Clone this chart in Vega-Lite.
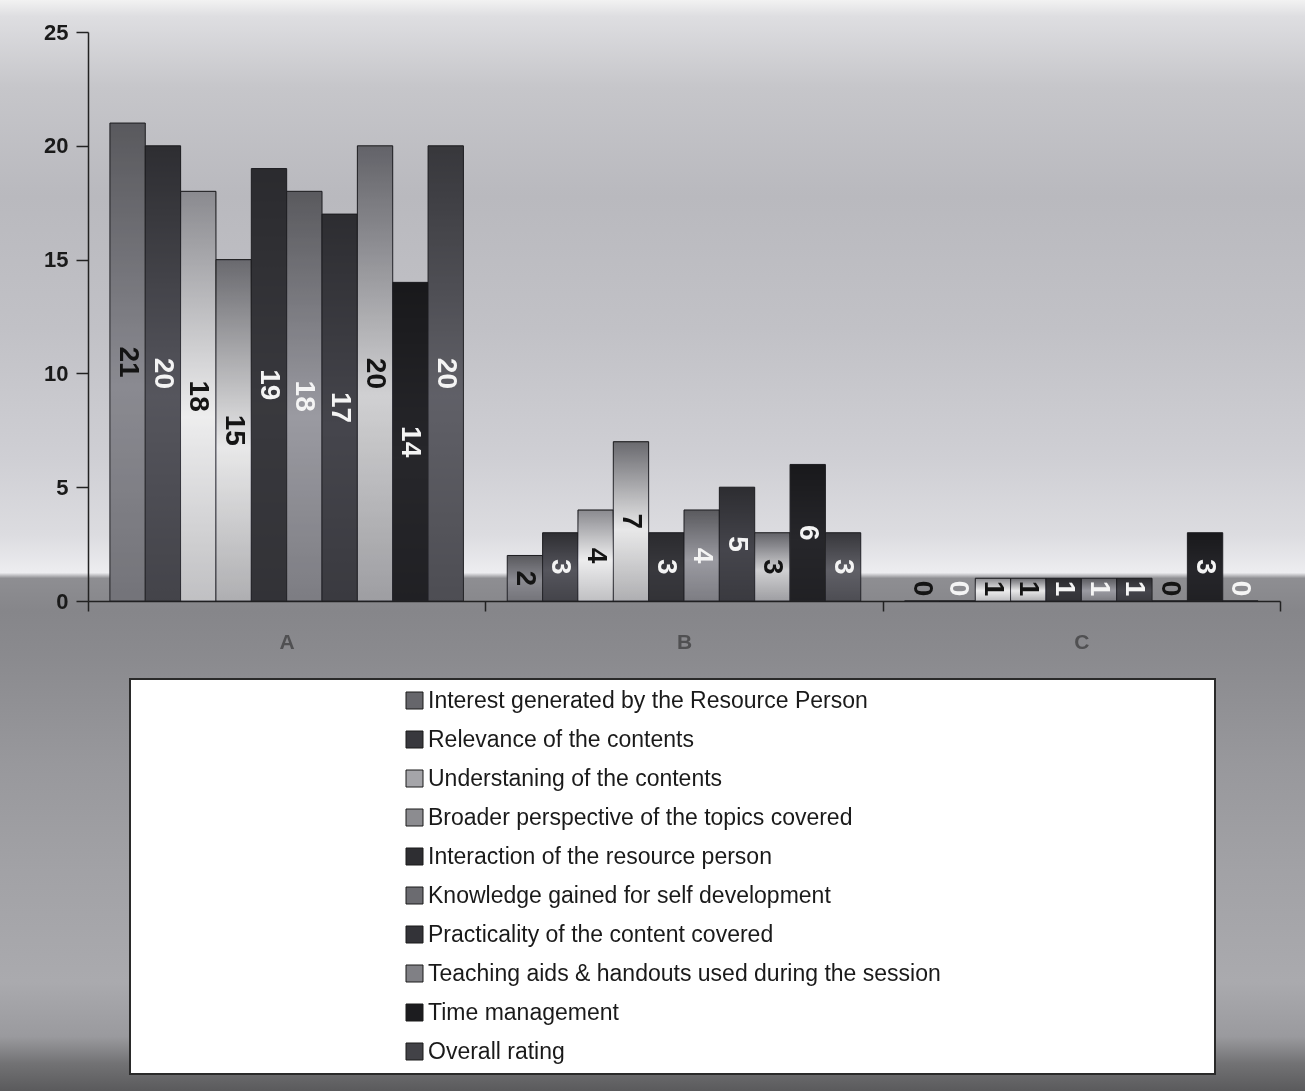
{
  "$schema": "https://vega.github.io/schema/vega-lite/v6.json",
  "width": 1305,
  "height": 1091,
  "autosize": {"type": "none"},
  "padding": 0,
  "background": "#9a9a9e",
  "config": {
    "font": "Liberation Sans",
    "view": {
      "stroke": null,
      "fill": {
        "gradient": "linear", "x1": 0, "y1": 0, "x2": 0, "y2": 1,
        "stops": [
          {"offset": 0, "color": "#f2f2f2"},
          {"offset": 0.015, "color": "#dedee1"},
          {"offset": 0.08, "color": "#c6c6ca"},
          {"offset": 0.18, "color": "#b9b9be"},
          {"offset": 0.3, "color": "#c1c1c6"},
          {"offset": 0.42, "color": "#cfcfd4"},
          {"offset": 0.49, "color": "#dcdce0"},
          {"offset": 0.525, "color": "#ededf0"},
          {"offset": 0.53, "color": "#8e8e92"},
          {"offset": 0.56, "color": "#86868a"},
          {"offset": 0.6, "color": "#8a8a8e"},
          {"offset": 0.7, "color": "#98989c"},
          {"offset": 0.8, "color": "#a2a2a6"},
          {"offset": 0.9, "color": "#aaaaae"},
          {"offset": 0.95, "color": "#9a9a9e"},
          {"offset": 0.975, "color": "#727274"},
          {"offset": 1, "color": "#5a5a5c"}
        ]
      }
    },
    "axis": {"grid": false, "title": null},
    "legend": {
      "orient": "none",
      "legendX": 130,
      "legendY": 679,
      "fillColor": "#ffffff",
      "strokeColor": "#2a2a2a",
      "strokeWidth": 2,
      "padding": 10,
      "symbolType": "square",
      "symbolSize": 289,
      "symbolStrokeColor": "#1a1a1a",
      "symbolStrokeWidth": 1,
      "symbolOpacity": 1,
      "symbolOffset": 263,
      "labelOffset": 2,
      "labelFontSize": 23,
      "labelColor": "#1a1a1a",
      "labelLimit": 800,
      "rowPadding": 15,
      "titleOrient": "right",
      "titlePadding": 264
    }
  },
  "data": {
    "values": [
      {"group": "A", "series": "Interest generated by the Resource Person", "value": 21},
      {"group": "A", "series": "Relevance of the contents", "value": 20},
      {"group": "A", "series": "Understaning of the contents", "value": 18},
      {"group": "A", "series": "Broader perspective of the topics covered", "value": 15},
      {"group": "A", "series": "Interaction of the resource person", "value": 19},
      {"group": "A", "series": "Knowledge gained for self development", "value": 18},
      {"group": "A", "series": "Practicality of the content covered", "value": 17},
      {"group": "A", "series": "Teaching aids & handouts used during the session", "value": 20},
      {"group": "A", "series": "Time management", "value": 14},
      {"group": "A", "series": "Overall rating", "value": 20},
      {"group": "B", "series": "Interest generated by the Resource Person", "value": 2},
      {"group": "B", "series": "Relevance of the contents", "value": 3},
      {"group": "B", "series": "Understaning of the contents", "value": 4},
      {"group": "B", "series": "Broader perspective of the topics covered", "value": 7},
      {"group": "B", "series": "Interaction of the resource person", "value": 3},
      {"group": "B", "series": "Knowledge gained for self development", "value": 4},
      {"group": "B", "series": "Practicality of the content covered", "value": 5},
      {"group": "B", "series": "Teaching aids & handouts used during the session", "value": 3},
      {"group": "B", "series": "Time management", "value": 6},
      {"group": "B", "series": "Overall rating", "value": 3},
      {"group": "C", "series": "Interest generated by the Resource Person", "value": 0},
      {"group": "C", "series": "Relevance of the contents", "value": 0},
      {"group": "C", "series": "Understaning of the contents", "value": 1},
      {"group": "C", "series": "Broader perspective of the topics covered", "value": 1},
      {"group": "C", "series": "Interaction of the resource person", "value": 1},
      {"group": "C", "series": "Knowledge gained for self development", "value": 1},
      {"group": "C", "series": "Practicality of the content covered", "value": 1},
      {"group": "C", "series": "Teaching aids & handouts used during the session", "value": 0},
      {"group": "C", "series": "Time management", "value": 3},
      {"group": "C", "series": "Overall rating", "value": 0}
    ]
  },
  "transform": [
    {"calculate": "max(datum.value / 2, 0.55)", "as": "labelPos"}
  ],
  "encoding": {
    "x": {
      "field": "group",
      "type": "nominal",
      "scale": {"range": [88, 1280], "paddingInner": 0, "paddingOuter": 0},
      "axis": {
        "title": null,
        "orient": "bottom",
        "offset": -490,
        "labelAngle": 0,
        "tickBand": "extent",
        "tickSize": 10,
        "tickWidth": 1.5,
        "tickColor": "#222222",
        "domainColor": "#222222",
        "domainWidth": 1.5,
        "labelFontSize": 21,
        "labelFontWeight": "bold",
        "labelColor": "#505052",
        "labelPadding": 20
      }
    },
    "xOffset": {
      "field": "series",
      "type": "nominal",
      "sort": [
        "Interest generated by the Resource Person",
        "Relevance of the contents",
        "Understaning of the contents",
        "Broader perspective of the topics covered",
        "Interaction of the resource person",
        "Knowledge gained for self development",
        "Practicality of the content covered",
        "Teaching aids & handouts used during the session",
        "Time management",
        "Overall rating"
      ],
      "scale": {"paddingInner": 0, "paddingOuter": 0.62}
    }
  },
  "layer": [
    {
      "mark": {"type": "bar", "stroke": "#1e1e22", "strokeWidth": 1},
      "encoding": {
        "y": {
          "field": "value",
          "type": "quantitative",
          "scale": {"domain": [0, 25], "range": [601, 32], "nice": false, "zero": true},
          "axis": {
            "title": null,
            "orient": "left",
            "offset": -88,
            "values": [0, 5, 10, 15, 20, 25],
            "tickSize": 12,
            "tickWidth": 1.5,
            "tickColor": "#222222",
            "domainColor": "#222222",
            "domainWidth": 1.5,
            "labelFontSize": 22,
            "labelFontWeight": "bold",
            "labelColor": "#1a1a1a",
            "labelPadding": 8
          }
        },
        "color": {
          "field": "series",
          "type": "nominal",
          "scale": {
            "domain": [
              "Interest generated by the Resource Person",
              "Relevance of the contents",
              "Understaning of the contents",
              "Broader perspective of the topics covered",
              "Interaction of the resource person",
              "Knowledge gained for self development",
              "Practicality of the content covered",
              "Teaching aids & handouts used during the session",
              "Time management",
              "Overall rating"
            ],
            "range": ["#66666b", "#38383d", "#a5a5a9", "#8c8c90", "#2e2e32", "#6b6b70", "#333338", "#808085", "#1c1c1f", "#424247"]
          },
          "legend": {"title": " "}
        }
      }
    },
    {
      "mark": {
        "type": "bar",
        "stroke": null,
        "blend": "overlay",
        "fill": {
          "gradient": "linear", "x1": 0, "y1": 0, "x2": 0, "y2": 1,
          "stops": [
            {"offset": 0, "color": "#595959"},
            {"offset": 0.55, "color": "#e6e6e6"},
            {"offset": 1, "color": "#a6a6a6"}
          ]
        }
      },
      "encoding": {
        "y": {"field": "value", "type": "quantitative"},
        "opacity": {
          "condition": [
            {"test": "datum.series === 'Interest generated by the Resource Person'", "value": 0.44},
            {"test": "datum.series === 'Relevance of the contents'", "value": 0.65},
            {"test": "datum.series === 'Understaning of the contents'", "value": 1},
            {"test": "datum.series === 'Broader perspective of the topics covered'", "value": 1},
            {"test": "datum.series === 'Interaction of the resource person'", "value": 0.28},
            {"test": "datum.series === 'Knowledge gained for self development'", "value": 0.55},
            {"test": "datum.series === 'Practicality of the content covered'", "value": 0.44},
            {"test": "datum.series === 'Teaching aids & handouts used during the session'", "value": 0.79},
            {"test": "datum.series === 'Time management'", "value": 0.45}
          ],
          "value": 0.56
        }
      }
    },
    {
      "mark": {"type": "text", "angle": 90, "fontSize": 28, "fontWeight": "bold", "align": "center", "baseline": "middle"},
      "encoding": {
        "y": {"field": "labelPos", "type": "quantitative"},
        "text": {"field": "value", "type": "quantitative"},
        "fill": {
          "condition": {
            "test": "indexof(['Interest generated by the Resource Person', 'Understaning of the contents', 'Broader perspective of the topics covered', 'Teaching aids & handouts used during the session'], datum.series) >= 0",
            "value": "#141414"
          },
          "value": "#f4f4f4"
        }
      }
    }
  ]
}
